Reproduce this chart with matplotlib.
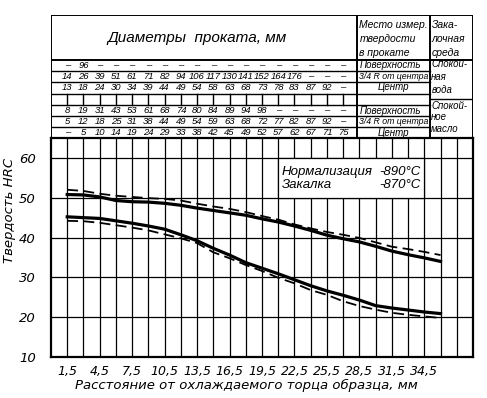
import numpy as np
import matplotlib.pyplot as plt
from matplotlib.patches import Rectangle

# Jominy distance (mm) and hardness band (HRC)
dist = [1.5, 3, 4.5, 6, 7.5, 9, 10.5, 12, 13.5, 15, 16.5, 18,
        19.5, 21, 22.5, 24, 25.5, 27, 28.5, 30, 31.5, 33, 34.5, 36]
top_dashed = [52.0, 51.7, 51.0, 50.5, 50.2, 49.9, 49.7, 49.3, 48.5, 47.8, 47.2, 46.4,
              45.4, 44.5, 43.3, 42.3, 41.4, 40.7, 39.9, 38.8, 37.7, 37.1, 36.4, 35.6]
top_solid = [50.8, 50.7, 50.2, 49.3, 49.0, 48.9, 48.6, 48.1, 47.4, 46.8, 46.2, 45.6,
             44.7, 43.9, 42.9, 41.8, 40.6, 39.7, 38.9, 37.8, 36.6, 35.7, 34.9, 34.0]
low_solid = [45.2, 45.0, 44.8, 44.2, 43.6, 42.9, 42.1, 40.7, 39.2, 37.3, 35.6, 33.7,
             32.3, 30.9, 29.4, 27.9, 26.6, 25.5, 24.3, 22.9, 22.3, 21.8, 21.3, 20.9]
low_dashed = [44.2, 44.1, 43.7, 43.1, 42.5, 41.8, 40.8, 39.8, 38.6, 36.3, 34.8, 33.1,
              31.6, 29.9, 28.5, 26.8, 25.6, 24.0, 22.8, 21.9, 21.1, 20.6, 20.2, 19.8]

# bar diameters table (mm)
water_surface = ['–', '96'] + ['–'] * 16
water_34 = ['14', '26', '39', '51', '61', '71', '82', '94', '106', '117', '130', '141',
            '152', '164', '176', '–', '–', '–']
water_center = ['13', '18', '24', '30', '34', '39', '44', '49', '54', '58', '63', '68',
                '73', '78', '83', '87', '92', '–']
oil_surface = ['8', '19', '31', '43', '53', '61', '68', '74', '80', '84', '89', '94',
               '98', '–', '–', '–', '–', '–']
oil_34 = ['5', '12', '18', '25', '31', '38', '44', '49', '54', '59', '63', '68',
          '72', '77', '82', '87', '92', '–']
oil_center = ['–', '5', '10', '14', '19', '24', '29', '33', '38', '42', '45', '49',
              '52', '57', '62', '67', '71', '75']

x_ticks = [1.5, 4.5, 7.5, 10.5, 13.5, 16.5, 19.5, 22.5, 25.5, 28.5, 31.5, 34.5]
y_ticks = [10, 20, 30, 40, 50, 60]

plt.rcParams['font.family'] = ['DejaVu Sans']
plt.rcParams['font.style'] = 'italic'
lib = ['Liberation Sans', 'DejaVu Sans']

W, H = 487, 398
fig = plt.figure(figsize=(W / 100, H / 100), dpi=100)

# main chart
ax = fig.add_axes([51 / W, 1 - 357 / H, 422 / W, 219 / H])
ax.set_xlim(0, 39)
ax.set_ylim(10, 65)
for x in np.arange(1.5, 39, 1.5):
    ax.axvline(x, color='k', lw=0.9, zorder=1)
for y in range(20, 61, 10):
    ax.axhline(y, color='k', lw=0.9, zorder=1)
for s in ax.spines.values():
    s.set_linewidth(1.6)

ax.set_xticks(x_ticks)
ax.set_xticklabels([f'{v:.1f}'.replace('.', ',') for v in x_ticks], fontsize=9)
ax.set_yticks(y_ticks)
ax.set_yticklabels([str(v) for v in y_ticks], fontsize=9.5)
ax.tick_params(length=0)
ax.tick_params(axis='x', pad=6)
ax.tick_params(axis='y', pad=11)

ax.plot(dist, top_solid, color='k', lw=2.3, zorder=5)
ax.plot(dist, top_dashed, color='k', lw=1.3, dashes=(6, 3), zorder=5)
ax.plot(dist, low_solid, color='k', lw=2.3, zorder=5)
ax.plot(dist, low_dashed, color='k', lw=1.3, dashes=(6, 3), zorder=5)

ax.add_patch(Rectangle((21, 50), 13.5, 10, facecolor='white', edgecolor='k', lw=0.9, zorder=3))
ax.text(21.3, 56.4, 'Нормализация', fontsize=9.5, family=lib, va='center', zorder=4)
ax.text(34.2, 56.4, '-890°C', fontsize=9.5, family=lib, va='center', ha='right', zorder=4)
ax.text(21.3, 53.1, 'Закалка', fontsize=9.5, family=lib, va='center', zorder=4)
ax.text(34.2, 53.1, '-870°C', fontsize=9.5, family=lib, va='center', ha='right', zorder=4)

fig.text(10 / W, 1 - 210 / H, 'Твердость HRC', rotation=90, fontsize=9.5,
         ha='center', va='center')
fig.text(246 / W, 1 - 385 / H, 'Расстояние от охлаждаемого торца образца, мм',
         fontsize=9.5, ha='center', va='center')

# table above the chart (y in pixel rows)
tax = fig.add_axes([51 / W, 1 - 138 / H, 422 / W, 123 / H])
tax.set_xlim(0, 39)
tax.set_ylim(138, 15)
tax.axis('off')
lw = 1.0
for y in [15, 60, 138]:
    tax.plot([0, 39], [y, y], color='k', lw=1.4)
for y in [71, 82, 94, 105, 116, 127]:
    tax.plot([0, 35.0], [y, y], color='k', lw=lw)
tax.plot([35.0, 39], [99, 99], color='k', lw=lw)
for x in [0, 28.3, 35.0, 39]:
    tax.plot([x, x], [15, 138], color='k', lw=1.4)
for i in range(18):
    tax.plot([1.5 * (i + 1)] * 2, [94, 105], color='k', lw=lw)

tax.text(13.5, 38, 'Диаметры  проката, мм', fontsize=11, family=lib,
         ha='center', va='center')
rows = [(65.5, water_surface), (76.5, water_34), (88, water_center),
        (110.5, oil_surface), (121.5, oil_34), (132.5, oil_center)]
for y, vals in rows:
    for i, v in enumerate(vals):
        tax.text(1.5 * (i + 1), y, v, fontsize=6.8, family=lib,
                 ha='center', va='center')

for y, t in [(25, 'Место измер.'), (39, 'твердости'), (53, 'в прокате')]:
    tax.text(28.5, y, t, fontsize=7.5, family=lib, va='center')
for y, t in [(25, 'Зака-'), (39, 'лочная'), (53, 'среда')]:
    tax.text(35.2, y, t, fontsize=7.5, family=lib, va='center')
for y0 in [65.5, 110.5]:
    tax.text(28.5, y0, 'Поверхность', fontsize=7, family=lib, va='center')
    tax.text(28.45, y0 + 11, '3/4 R от центра', fontsize=6.3, family=lib, va='center')
    tax.text(31.65, y0 + 22, 'Центр', fontsize=7, family=lib, va='center', ha='center')
for y, t in [(64, 'Спокой-'), (77, 'ная'), (90, 'вода'),
             (106, 'Спокой-'), (117, 'ное'), (129, 'масло')]:
    tax.text(35.15, y, t, fontsize=6.9, family=lib, va='center')

fig.savefig('out.png', dpi=100)
